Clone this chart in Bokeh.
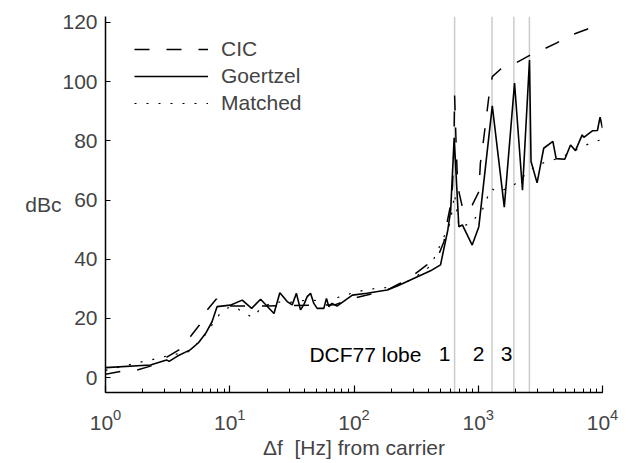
from bokeh.plotting import figure
from bokeh.models import FixedTicker, LogTicker, Legend, LegendItem
from bokeh.core.properties import value
from bokeh.embed import file_html
from bokeh.resources import INLINE

# ---- data ----
cic_f = [1, 1.32, 1.8, 2.3, 2.86, 3.9, 4.83, 5.7, 6.6, 7.8, 8.3, 10, 20, 45, 70,
         98.6, 127, 185, 236, 302, 386, 480, 530, 560, 595, 620, 636, 645, 667,
         684, 760, 894, 1011, 1040, 1103, 1218, 1297, 1510, 1993, 2550, 3380,
         4330, 5650, 7500, 10000]
cic_db = [1.2, 2.1, 2.6, 3.9, 6.0, 9.4, 13.9, 17.8, 22.9, 26.6, 24.3, 24.2, 24.2,
          24.5, 24.6, 26.8, 27.9, 29.6, 31.9, 34.7, 38.1, 41.5, 46.0, 52.2, 57.8,
          64.5, 75.8, 95.5, 76.0, 64.5, 56.0, 58.3, 62.8, 72.4, 80.3, 95.0, 101.7,
          104.2, 106.2, 108.7, 111.0, 113.2, 115.8, 117.7, 120.3]

goertzel_f = [1, 2.3, 3.1, 3.25, 3.8, 4.8, 5.6, 6.4, 7.2, 7.9, 10.1, 12.6, 15,
              17.7, 22.7, 25.3, 29, 31.8, 34.4, 37.1, 39.4, 42, 44.7, 47.5, 50.5,
              57.2, 60, 62.7, 66.5, 73, 97, 127, 185, 223, 413, 497, 569, 600, 640,
              698, 745, 894, 1011, 1297, 1620, 1959, 2270, 2585, 2660, 2976, 3364,
              3985, 4237, 4969, 5530, 6060, 6860, 7070, 8290, 9100, 9560, 10000]
goertzel_db = [3.4, 4.3, 6.0, 5.5, 7.3, 9.4, 11.8, 15.0, 18.9, 24.0, 24.5, 26.2,
               23.4, 26.5, 21.7, 28.7, 25.7, 24.6, 28.5, 22.9, 24.6, 27.4, 28.5,
               25.1, 23.4, 23.4, 26.8, 24.0, 25.1, 24.2, 27.9, 28.5, 29.6, 31.0,
               36.1, 38.1, 49.9, 56.6, 81.0, 51.0, 51.6, 44.8, 51.0, 91.8, 57.6,
               99.5, 63.3, 107.3, 73.0, 65.8, 77.5, 79.8, 74.0, 73.8, 78.6, 76.7,
               82.0, 81.2, 83.4, 83.5, 88.0, 84.3]

matched_f = [1, 2.03, 2.5, 3.1, 4.8, 5.64, 6.2, 7.3, 8.3, 9.5, 11, 13.2, 15.4, 17.7,
             22.7, 29, 37, 44.7, 52, 62.7, 80.5, 99, 123, 153, 190, 236, 300, 413,
             595, 645, 700, 855, 1075, 1160, 1270, 1440, 1870, 2495, 2950, 3650,
             4570, 5530, 6820, 8290, 10000]
matched_db = [2.5, 5.5, 6.3, 7.3, 8.9, 12.2, 13.9, 18.2, 21.5, 23.5, 24.0, 21.6,
              20.4, 23.4, 25.7, 25.3, 26.0, 26.2, 26.0, 26.0, 27.6, 28.7, 29.6,
              30.2, 30.5, 31.3, 33.5, 37.7, 52.2, 62.0, 51.0, 51.9, 56.5, 60.0,
              63.9, 62.8, 64.5, 69.2, 71.9, 73.0, 74.3, 76.0, 78.0, 79.5, 80.5]

lobe_f = [645.16, 1290.32, 1935.48, 2580.64]
lobe_text = ["1", "2", "3"]
lobe_text_f = [535, 1005, 1687]
lobe_title = "DCF77 lobe"
lobe_title_f = 349
lobe_text_db = 8

y_label = "dBc"
x_label = "\u0394f\u00a0\u00a0[Hz] from carrier"

y_ticks = [0, 20, 40, 60, 80, 100, 120]
x_range = (1, 1e4)
y_range = (-5, 122)

FONT = "Liberation Sans"
FS = "21px"

p = figure(width=629, height=463, x_axis_type="log", x_range=x_range,
           y_range=y_range, output_backend="svg", toolbar_location=None,
           min_border_left=105, min_border_right=27, min_border_top=16,
           min_border_bottom=71, outline_line_color=None,
           background_fill_color="white", border_fill_color="white")
p.grid.visible = False

# vertical lobe lines
p.segment(x0=lobe_f, x1=lobe_f, y0=[y_range[0]] * len(lobe_f),
          y1=[y_range[1]] * len(lobe_f), line_color="#cccccc", line_width=1.5)

r_cic = p.line(cic_f, cic_db, line_color="black", line_width=1.5, line_dash="15 17")
r_g = p.line(goertzel_f, goertzel_db, line_color="black", line_width=1.6)
r_m = p.line(matched_f, matched_db, line_color="black", line_width=1.2,
             line_dash="2 10")

legend = Legend(items=[LegendItem(label="CIC", renderers=[r_cic]),
                       LegendItem(label="Goertzel", renderers=[r_g]),
                       LegendItem(label="Matched", renderers=[r_m])],
                location=(29, 277), padding=0, margin=0, spacing=3,
                glyph_width=74, glyph_height=24, label_height=24,
                label_standoff=13, border_line_alpha=0,
                background_fill_alpha=0, label_text_font=FONT,
                label_text_font_size=FS)
p.add_layout(legend)

# texts
p.text(x=[lobe_title_f], y=[lobe_text_db], text=[lobe_title], text_align="right",
       text_baseline="middle", text_font=value(FONT), text_font_size=FS,
       text_color="black")
p.text(x=lobe_text_f, y=[lobe_text_db] * len(lobe_text_f), text=lobe_text,
       text_align="center", text_baseline="middle", text_font=value(FONT),
       text_font_size=FS, text_color="black")

# axes
xa = p.xaxis[0]
xa.ticker = LogTicker(mantissas=[1], num_minor_ticks=10)
xa.axis_label = x_label
xa.axis_label_text_font = FONT
xa.axis_label_text_font_size = FS
xa.axis_label_text_font_style = "normal"
xa.axis_label_standoff = 3
xa.major_label_text_font = FONT
xa.major_label_text_font_size = FS
xa.major_label_standoff = 16
xa.major_tick_in = 7
xa.major_tick_out = 0
xa.minor_tick_in = 4
xa.minor_tick_out = 0
xa.axis_line_width = 1.5
xa.major_tick_line_width = 1.2
xa.minor_tick_line_width = 1.0

ya = p.yaxis[0]
ya.ticker = FixedTicker(ticks=y_ticks)
ya.major_label_text_font = FONT
ya.major_label_text_font_size = FS
ya.major_label_standoff = 8
ya.major_tick_in = 5
ya.major_tick_out = 0
ya.minor_tick_in = 0
ya.minor_tick_out = 0
ya.axis_line_width = 1.5
ya.major_tick_line_width = 1.2
ya.axis_label = y_label
ya.axis_label_text_font = FONT
ya.axis_label_text_font_size = FS
ya.axis_label_text_font_style = "normal"
ya.axis_label_standoff = -2
if "axis_label_orientation" in ya.properties():
    ya.axis_label_orientation = "horizontal"

open("out.html", "w").write(file_html(p, INLINE))
